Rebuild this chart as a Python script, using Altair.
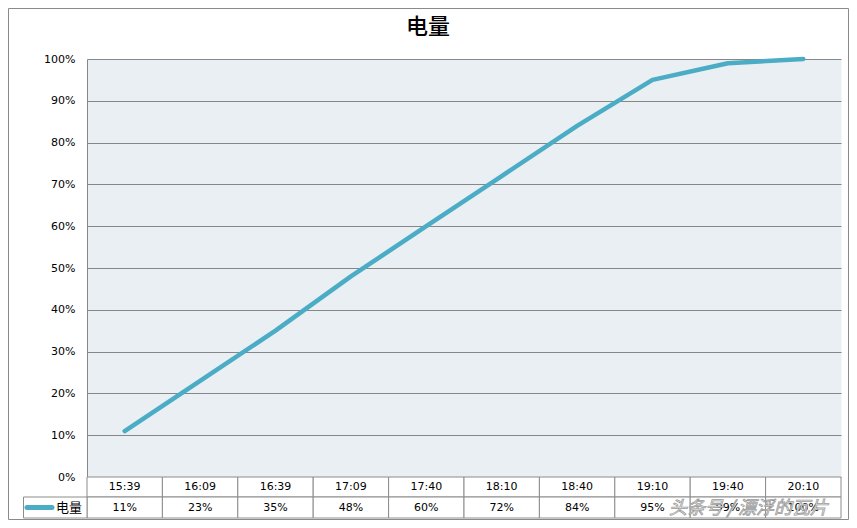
import altair as alt
import pandas as pd

times = ["15:39", "16:09", "16:39", "17:09", "17:40", "18:10", "18:40", "19:10", "19:40", "20:10"]
levels = [11, 23, 35, 48, 60, 72, 84, 95, 99, 100]
value_labels = ["11%", "23%", "35%", "48%", "60%", "72%", "84%", "95%", "99%", "100%"]
y_ticks = [0, 10, 20, 30, 40, 50, 60, 70, 80, 90, 100]
series_name = "电量"
title_text = "电量"
watermark = "头条号 / 漂浮的瓦片"

LINE_COLOR = "#4BACC6"
GRID = "#878787"
BG = "#E9EFF2"
W, H = 754, 418
R1, R2 = 20, 41

df = pd.DataFrame({"time": times, "level": levels, "label": value_labels})
one = pd.DataFrame({"k": [0]})

xscale = alt.Scale(type="band", paddingInner=0, paddingOuter=0)
x_enc = alt.X("time:N", sort=times, scale=xscale, axis=None)

y_enc = alt.Y("level:Q", scale=alt.Scale(domain=[0, 100]),
              axis=alt.Axis(values=y_ticks, labelExpr="datum.value + '%'", title=None, ticks=False,
                            domainColor=GRID, gridColor=GRID, gridOpacity=1, labelPadding=12,
                            labelFontSize=11, labelFont="DejaVu Sans", labelColor="#000"))

line = alt.Chart(df).mark_line(color=LINE_COLOR, strokeWidth=4.5, strokeCap="round",
                               strokeJoin="round").encode(x=x_enc, y=y_enc)

row1 = alt.Chart(df).mark_rect(fill="white", stroke="#8c8c8c", strokeWidth=1).encode(
    x=x_enc, y=alt.value(H), y2=alt.value(H + R1))
row2 = alt.Chart(df).mark_rect(fill="white", stroke="#8c8c8c", strokeWidth=1).encode(
    x=x_enc, y=alt.value(H + R1), y2=alt.value(H + R2))
vals = alt.Chart(df).mark_text(fontSize=11, font="DejaVu Sans", color="#000", baseline="middle").encode(
    x=x_enc, y=alt.value(H + (R1 + R2) / 2), text="label:N")
xlab = alt.Chart(df).mark_text(fontSize=11, font="DejaVu Sans", color="#000", baseline="middle").encode(
    x=x_enc, y=alt.value(H + R1 / 2), text="time:N")

leg_cell = alt.Chart(one).mark_rect(fill="white", stroke="#8c8c8c", strokeWidth=1).encode(
    x=alt.value(-63.5), x2=alt.value(0), y=alt.value(H + R1), y2=alt.value(H + R2))
leg_swatch = alt.Chart(one).mark_rule(color=LINE_COLOR, strokeWidth=5, strokeCap="round").encode(
    x=alt.value(-60), x2=alt.value(-35), y=alt.value(H + (R1 + R2) / 2))
leg_text = alt.Chart(one).mark_text(align="left", baseline="middle", fontSize=13,
                                    font="Noto Sans CJK SC", color="#000").encode(
    x=alt.value(-31), y=alt.value(H + (R1 + R2) / 2), text=alt.value(series_name))

title = alt.Chart(one).mark_text(fontSize=22, font="Noto Sans CJK SC", fontWeight=500, color="#000",
                                 baseline="middle").encode(
    x=alt.value(341), y=alt.value(-32), text=alt.value(title_text))

border = alt.Chart(one).mark_rect(fillOpacity=0, stroke="#8a8a8a", strokeWidth=1).encode(
    x=alt.value(-78.5), x2=alt.value(761.5), y=alt.value(-50.5), y2=alt.value(H + 42.5))

wm = alt.Chart(one).mark_text(align="left", baseline="middle", fontSize=18, font="Noto Sans CJK SC",
                              fontStyle="italic", fill="white", stroke="#9a9a9a",
                              strokeWidth=0.8).encode(
    x=alt.value(582), y=alt.value(H + 32), text=alt.value(watermark))

chart = alt.layer(line, row1, row2, vals, xlab, leg_cell, leg_swatch, leg_text, title, border, wm).properties(
    width=W, height=H,
    autosize=alt.AutoSizeParams(type="none"),
    padding={"left": 79, "top": 51, "right": 8, "bottom": 43},
    background="white",
).configure_view(fill=BG, stroke="transparent")

chart.save("out.html", embed_options={"renderer": "svg", "actions": False})
